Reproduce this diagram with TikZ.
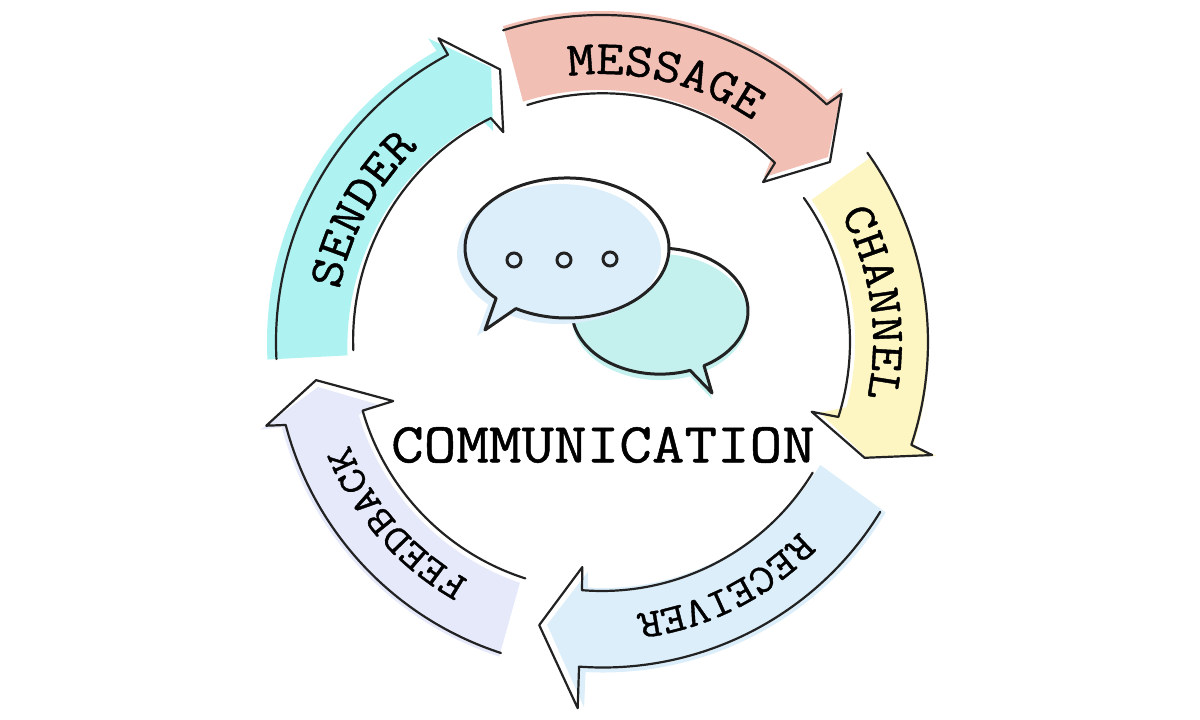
\documentclass[tikz,border=0pt]{standalone}
\usepackage{fontspec}
\usepackage{xcolor}
\usetikzlibrary{decorations.text}

\newfontfamily\labelfam{Latin Modern Mono}[FakeStretch=1.12,FakeBold=0.9]

\definecolor{inkblack}{HTML}{222222}
\definecolor{sendercol}{HTML}{AEF3F2}
\definecolor{messagecol}{HTML}{F2BFB5}
\definecolor{channelcol}{HTML}{FDF6C3}
\definecolor{receivercol}{HTML}{DCEEF9}
\definecolor{feedbackcol}{HTML}{E6E9FA}
\definecolor{bubblecol}{HTML}{C4F0EE}

\newcommand{\labelfont}[1]{\labelfam\fontsize{#1}{#1}\selectfont}
\newcommand{\bandlabel}[4]{\path[postaction={decorate},decoration={text along path,text align=center,text={|\labelfont{#3}|#4}}] (#1+60:#2) arc[start angle=#1+60,end angle=#1-60,radius=#2];}
\newcommand{\bubbleone}{(-86,33.4) arc[start angle=240,end angle=586,x radius=102,y radius=70] -- (-117,12) -- cycle}
\newcommand{\bubbletwo}{(102,-23.7) arc[start angle=300,end angle=650,x radius=88,y radius=63] -- (110,-51) -- cycle}

\tikzset{
	bandink/.style={draw=inkblack,line width=2.2pt,line join=round,line cap=round},
	bubbleink/.style={draw=inkblack,line width=3pt,line join=round},
	dotink/.style={circle,draw=inkblack,line width=3pt,inner sep=0pt,minimum size=14pt}
}

\begin{document}
\begin{tikzpicture}[x=1pt,y=1pt]
	\useasboundingbox (-602,342) rectangle (598,-378);

	\begin{scope}
	% colour bands
	\fill[sendercol] (183:335) arc[start angle=183,end angle=119.6,radius=335] -- (119.8:350) -- (112:296) -- (117.3:237.5) -- (118.4:252) arc[start angle=118.4,end angle=182,radius=257] -- cycle;
	\fill[messagecol] (107.4:331) arc[start angle=107.4,end angle=47,radius=331] -- (46.6:350) -- (39.3:292) -- (45.5:231) -- (47.4:251) arc[start angle=47.4,end angle=107.4,radius=255] -- cycle;
	\fill[channelcol] (34.5:326) arc[start angle=34.5,end angle=-17.8,radius=331] -- (-18.8:354) -- (-23.6:289) -- (-18:229) -- (-14.9:253) arc[start angle=-14.9,end angle=34,radius=254] -- cycle;
	\fill[receivercol] (-31:331) arc[start angle=-31,end angle=-93,radius=330] -- (-92.8:366) -- (-101:288) -- (-93.5:230) -- (-93.3:246) arc[start angle=-93.3,end angle=-31,radius=254] -- cycle;
	\fill[feedbackcol] (251.9:331) arc[start angle=251.9,end angle=195,radius=332] -- (194.4:353) -- (189:287.5) -- (195.7:232) -- (196.7:254) arc[start angle=196.7,end angle=251,radius=255] -- cycle;

	% outlines
	\draw[bandink] (183:326) arc[start angle=183,end angle=118.2,radius=326] -- (118.3:345) -- (110.5:291) -- (115.2:232) -- (116.4:250) arc[start angle=116.4,end angle=182.3,radius=248];
	\draw[bandink] (107.6:327) arc[start angle=107.6,end angle=46.6,radius=327] -- (46:345) -- (38.3:290.5) -- (44.8:227) -- (46:249) arc[start angle=46,end angle=107.7,radius=248];
	\draw[bandink] (35.5:326) arc[start angle=35.5,end angle=-18.4,radius=326] -- (-18.9:349) -- (-23.8:287) -- (-18.4:221) -- (-17.6:248) arc[start angle=-17.6,end angle=35.5,radius=248];
	\draw[bandink] (-31.4:326) arc[start angle=-31.4,end angle=-94.2,radius=325] -- (-93.8:367) -- (-102.5:290) -- (-95:226) -- (-94.6:249) arc[start angle=-94.6,end angle=-31.4,radius=247];
	\draw[bandink] (252:327) arc[start angle=252,end angle=194.7,radius=327] -- (194:346) -- (187.6:288.5) -- (195.8:217) -- (196:249) arc[start angle=196,end angle=252.2,radius=248];
	\end{scope}

	\begin{scope}
	% back bubble, then front bubble
	\fill[bubblecol,shift={(0,-6)}] \bubbletwo;
	\draw[bubbleink] \bubbletwo;
	\fill[white] \bubbleone;
	\fill[receivercol,shift={(-8,-6)}] \bubbleone;
	\draw[bubbleink] \bubbleone;
	\node[dotink] (dot1) at (-88,82) {};
	\node[dotink] (dot2) at (-38,82) {};
	\node[dotink] (dot3) at (8,83) {};
	\end{scope}

	\node[font=\labelfont{56.5},inner sep=0pt] (title) at (1,-103) {COMMUNICATION};

	\bandlabel{151}{268}{48}{SENDER}
	\bandlabel{76.5}{268}{48}{MESSAGE}
	\bandlabel{8.2}{271}{47}{CHANNEL}
	\bandlabel{-63.3}{274}{40.5}{RECEIVER}
	\bandlabel{221.4}{273}{40}{FEEDBACK}
\end{tikzpicture}
\end{document}
